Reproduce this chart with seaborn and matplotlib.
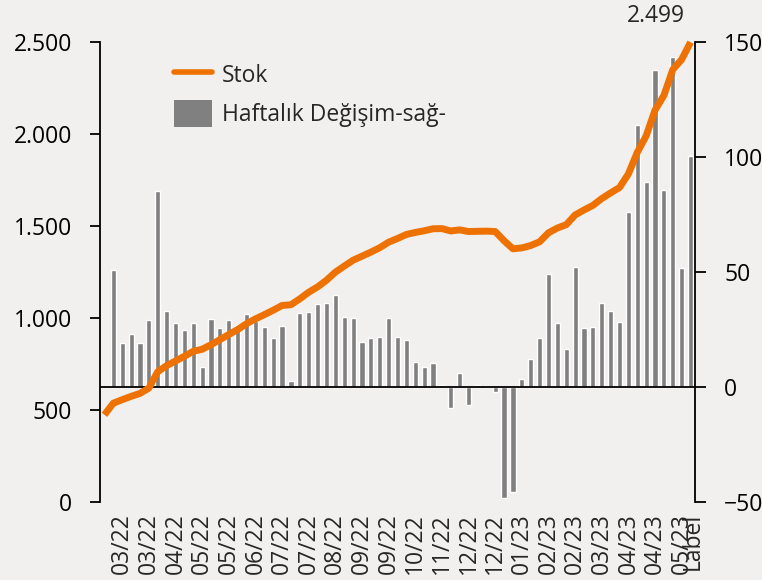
import matplotlib
matplotlib.use("Agg")
import matplotlib.pyplot as plt
from matplotlib.ticker import FuncFormatter
from matplotlib.patches import Patch
import seaborn as sns
import numpy as np
import pandas as pd

# weekly stock level (left axis) and weekly change (right axis)
stok = [474, 537, 556, 574, 590, 619, 708, 741, 766, 792,
        819, 830, 855, 882, 910, 937, 969, 995, 1018, 1042,
        1068, 1072, 1104, 1140, 1169, 1205, 1249, 1282, 1314, 1336,
        1358, 1382, 1412, 1432, 1454, 1465, 1474, 1485, 1486, 1473,
        1479, 1470, 1471, 1472, 1470, 1420, 1376, 1381, 1394, 1414,
        1463, 1489, 1507, 1560, 1587, 1612, 1649, 1680, 1709, 1783,
        1900, 1990, 2130, 2210, 2350, 2405, 2499]

haftalik = [51, 19, 23, 19, 29, 85, 33, 28, 25, 28,
            8.5, 29.7, 25.8, 29.3, 26.8, 31.8, 28.9, 26.2, 21.4, 26.5,
            2.5, 32.2, 32.4, 36.0, 36.7, 40.1, 30.5, 30.2, 19.7, 21.4,
            21.9, 30.0, 21.7, 20.6, 10.9, 8.7, 10.5, 0.9, -9.2, 6.0,
            -7.9, 0.9, 0.6, -2.3, -48.1, -45.5, 3.6, 12.3, 21.3, 49.0,
            27.8, 16.5, 52.0, 25.5, 26.2, 36.4, 33.2, 28.4, 75.9, 113.8,
            89.1, 137.7, 85.5, 143.5, 51.6, 100.6]

tarih_etiket = ["03/22", "03/22", "04/22", "05/22", "05/22", "06/22", "07/22",
                "07/22", "08/22", "09/22", "09/22", "10/22", "11/22", "12/22",
                "12/22", "01/23", "02/23", "02/23", "03/23", "04/23", "04/23",
                "05/23"]

bg = "#f2f0ef"
turuncu = "#ee7203"
gri = "#808080"
fs = 16.5

sns.set_style("ticks")
plt.rcParams["font.family"] = ["Open Sans", "DejaVu Sans"]
plt.rcParams["font.size"] = fs

idx = np.arange(len(stok))
df_line = pd.DataFrame({"x": idx, "stok": stok})
df_bar = pd.DataFrame({"x": idx[1:], "degisim": haftalik})

fig = plt.figure(figsize=(7.62, 5.80), dpi=100, facecolor=bg)
ax2 = fig.add_axes([100 / 762, 1 - 502 / 580, 595 / 762, 460 / 580])
ax1 = ax2.twinx()

# bars on right axis
sns.barplot(data=df_bar, x="x", y="degisim", ax=ax2, native_scale=True,
            orient="x", color=gri, saturation=1, width=0.58, errorbar=None)
ax2.set_facecolor(bg)
ax2.set_ylim(-50, 150)
ax2.set_yticks([-50, 0, 50, 100, 150])
ax2.axhline(0, color="black", lw=1.3, zorder=3)
for s in ["left", "top", "bottom"]:
    ax2.spines[s].set_visible(False)
ax2.spines["right"].set_visible(True)
ax2.spines["right"].set_color("black")
ax2.spines["right"].set_linewidth(1.3)
ax2.tick_params(axis="y", direction="out", length=8, width=1.3,
                colors="black", labelsize=fs, pad=13, left=False, labelleft=False,
                right=True, labelright=True)
ax2.set_xlabel("")
ax2.set_ylabel("")

# line on left axis, drawn above bars
ax1.set_zorder(ax2.get_zorder() + 1)
ax1.patch.set_visible(False)
sns.lineplot(data=df_line, x="x", y="stok", ax=ax1, color=turuncu, lw=5,
             clip_on=False, solid_capstyle="butt", legend=False)
ax1.set_ylim(0, 2500)
ax1.set_yticks([0, 500, 1000, 1500, 2000, 2500])
ax1.yaxis.set_major_formatter(FuncFormatter(lambda v, p: f"{int(v):,}".replace(",", ".")))
ax1.yaxis.tick_left()
for s in ["right", "top", "bottom"]:
    ax1.spines[s].set_visible(False)
ax1.spines["left"].set_color("black")
ax1.spines["left"].set_linewidth(1.3)
ax1.tick_params(axis="y", direction="out", length=7, width=1.3, colors="black",
                labelsize=fs, pad=13, left=True, labelleft=True,
                right=False, labelright=False)
ax1.set_xlabel("")
ax1.set_ylabel("")

ax1.set_xlim(-0.5, len(stok) - 0.5)
ax2.set_xlim(-0.5, len(stok) - 0.5)
pos = list(np.arange(len(tarih_etiket)) * 3 + 2.0) + [66.3]
ax2.set_xticks(pos)
ax2.set_xticklabels(tarih_etiket + ["Label"], rotation=90)
ax2.tick_params(axis="x", length=0, pad=8, labelsize=fs, bottom=True,
                labelbottom=True)

# last value label
ax1.annotate("2.499", xy=(idx[-1], stok[-1]), xytext=(-4, 10),
             textcoords="offset points", ha="right", va="bottom", fontsize=fs)

# legend
h_line = plt.Line2D([], [], color=turuncu, lw=4)
h_bar = Patch(facecolor=gri, edgecolor="none")
ax1.legend([h_line, h_bar], ["Stok", "Haftalık Değişim-sağ-"], loc="upper left",
           bbox_to_anchor=(0.124, 0.958), frameon=False, borderpad=0,
           borderaxespad=0, handlelength=1.66, handleheight=1.43,
           handletextpad=0.45, labelspacing=0.5, fontsize=fs)

fig.savefig("out.png", dpi=100, facecolor=bg)
